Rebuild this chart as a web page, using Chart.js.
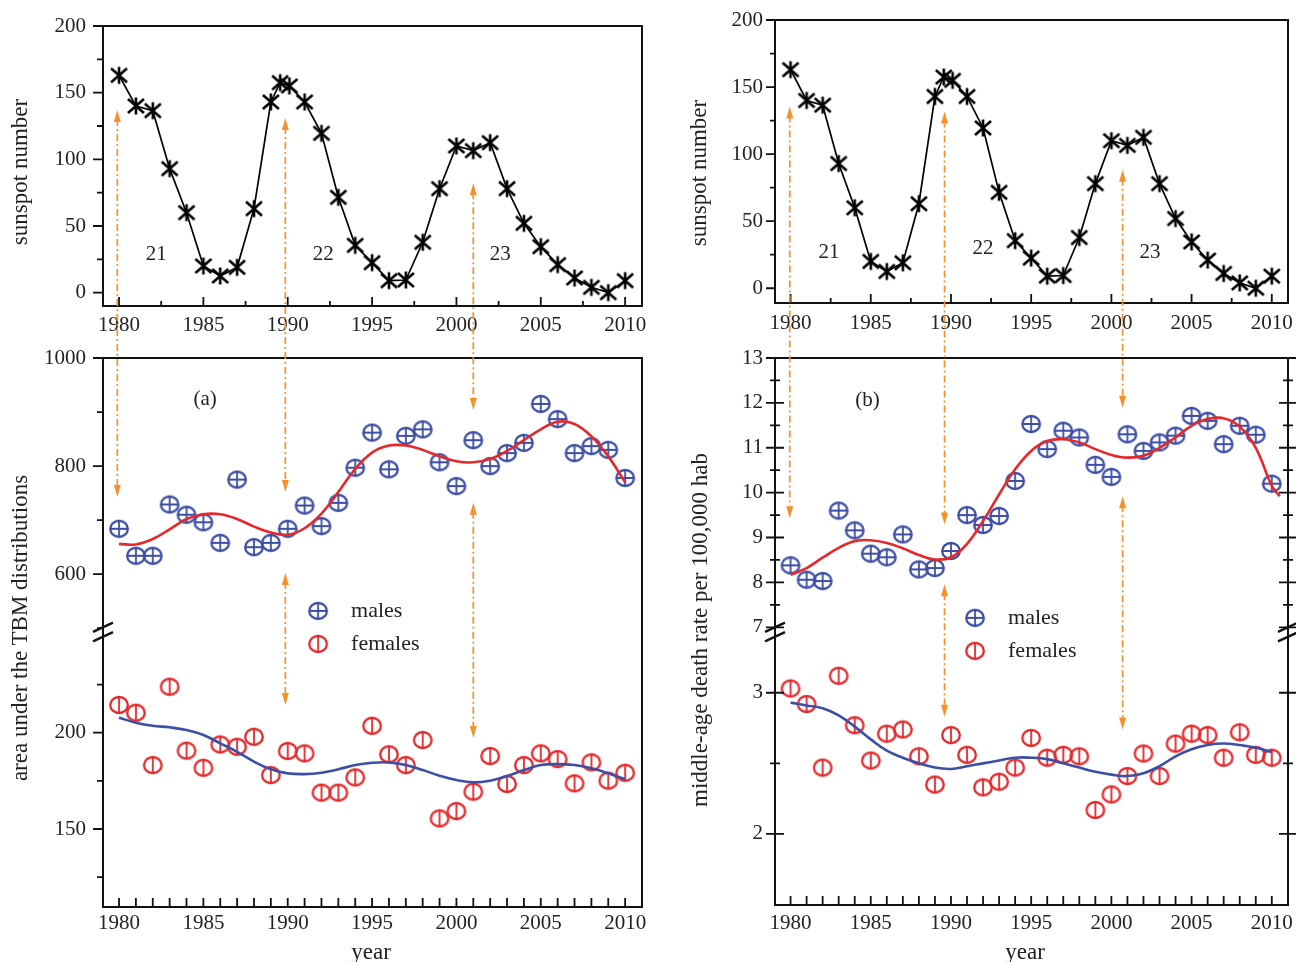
<!DOCTYPE html>
<html>
<head>
<meta charset="utf-8">
<script src="https://cdn.jsdelivr.net/npm/chart.js@4.4.1/dist/chart.umd.min.js"></script>
<style>
  body { margin:0; background:#fff; width:1296px; height:962px; position:relative; overflow:hidden;
         font-family:'Liberation Serif','DejaVu Serif',serif; color:#222; }
  canvas { position:absolute; }
  .ytl { position:absolute; font-size:23px; white-space:nowrap; transform:translate(-50%,-50%) rotate(-90deg); }
  .xtl { position:absolute; font-size:23px; white-space:nowrap; transform:translate(-50%,-50%); }
</style>
</head>
<body>
<canvas id="sunA"  width="660" height="345" style="left:0;top:0"></canvas>
<canvas id="maleA" width="660" height="287" style="left:0;top:345px"></canvas>
<canvas id="femA"  width="660" height="330" style="left:0;top:632px"></canvas>
<canvas id="sunB"  width="636" height="345" style="left:660px;top:0"></canvas>
<canvas id="maleB" width="636" height="287" style="left:660px;top:345px"></canvas>
<canvas id="femB"  width="636" height="330" style="left:660px;top:632px"></canvas>
<canvas id="overlay" width="1296" height="962" style="left:0;top:0;pointer-events:none"></canvas>

<div class="ytl" style="left:20px;top:172px">sunspot number</div>
<div class="ytl" style="left:699px;top:173px">sunspot number</div>
<div class="ytl" style="left:20px;top:628px">area under the TBM distributions</div>
<div class="ytl" style="left:700px;top:630px">middle-age death rate per 100,000 hab</div>
<div class="xtl" style="left:371px;top:952px">year</div>
<div class="xtl" style="left:1025px;top:952px">year</div>

<script>
// ── DATA ───────────────────────────────────────
const years = [1980,1981,1982,1983,1984,1985,1986,1987,1988,1989,1990,1991,1992,1993,1994,1995,
               1996,1997,1998,1999,2000,2001,2002,2003,2004,2005,2006,2007,2008,2009,2010];

// sunspot number (same series in both panels)
const sunYears  = [1980,1981,1982,1983,1984,1985,1986,1987,1988,1989,1989.55,1990.1,1991,1992,1993,1994,
                   1995,1996,1997,1998,1999,2000,2001,2002,2003,2004,2005,2006,2007,2008,2009,2010];
const sunValues = [163,140,136.5,93,60,20,12.5,19,63,143,157.5,155,143,119.5,71.5,35.5,
                   22.5,9,9.5,37.8,78,110,106.5,112.5,78,52,34.5,21,11,4,0,9];

// (a) area under the TBM distributions
const malesA   = [684,634,634,729,710,696,658,775,650,658,684,727,689,732,797,862,
                  794,856,868,807,763,848,800,824,843,915,887,824,837,830,778];
const malesFitA = [656,655,665,683,702,711,711,702,688,677,673,685,712,752,795,825,
                   838,838,830,818,809,807,813,828,848,868,882,878,855,818,770];
const femalesA  = [214.4,210.4,183.2,223.9,190.7,181.8,193.9,192.7,197.9,178.0,190.5,189.3,168.9,168.9,176.8,203.6,
                   188.8,183.2,196.2,155.5,159.3,169.4,187.9,173.4,183.2,189.3,186.3,173.7,184.6,175.1,179.2];
const femalesFitA = [207.8,205.2,203.6,202.8,201.4,198.8,194.5,190.1,185.0,181.0,178.9,178.5,179.2,181.0,183.2,184.4,
                     184.6,183.2,180.6,177.7,175.4,174.2,175.1,177.5,180.6,183.2,183.7,183.2,181.5,178.9,175.8];

// (b) middle-age death rate per 100,000 hab
const malesB   = [8.38,8.06,8.03,9.60,9.16,8.64,8.56,9.07,8.29,8.32,8.70,9.50,9.28,9.48,10.26,11.53,
                  10.97,11.38,11.23,10.62,10.35,11.30,10.93,11.12,11.27,11.71,11.60,11.08,11.49,11.29,10.20];
const fitYearsB = [1980,1981,1982,1983,1984,1985,1986,1987,1988,1989,1990,1991,1992,1993,1994,1995,
                   1996,1997,1998,1999,2000,2001,2002,2003,2004,2005,2006,2007,2008,2009,2010,2010.5];
const malesFitB = [8.17,8.32,8.55,8.77,8.92,8.94,8.88,8.76,8.61,8.51,8.56,8.86,9.37,9.96,10.52,10.93,
                   11.15,11.19,11.12,10.97,10.84,10.78,10.82,11.00,11.23,11.49,11.64,11.66,11.47,11.00,10.15,9.92];
const femalesB  = [3.03,2.92,2.47,3.12,2.77,2.52,2.71,2.74,2.55,2.35,2.70,2.56,2.33,2.37,2.47,2.68,
                   2.54,2.56,2.55,2.17,2.28,2.41,2.57,2.41,2.64,2.71,2.70,2.54,2.72,2.56,2.54];
const femalesFitB = [2.93,2.91,2.89,2.84,2.76,2.67,2.59,2.54,2.50,2.47,2.46,2.48,2.50,2.52,2.54,2.54,
                     2.53,2.50,2.47,2.44,2.42,2.41,2.43,2.48,2.55,2.60,2.63,2.64,2.63,2.61,2.58];

// ticks
const xLabels     = [1980,1985,1990,1995,2000,2005,2010];
const sunXTicks   = [1980,1982.5,1985,1987.5,1990,1992.5,1995,1997.5,2000,2002.5,2005,2007.5,2010];
const sunYLabels  = [0,50,100,150,200];
const sunYMinor   = [25,75,125,175];
const maleAYLabels = [600,800,1000];
const maleAYMinor  = [500,700,900];
const femAYLabels  = [150,200];
const femAYMinor   = [125,175,225];
const maleBYLabels = [7,8,9,10,11,12,13];
const maleBYMinor  = [7.5,8.5,9.5,10.5,11.5,12.5];
const femBYLabels  = [2,3];
const femBYMinor   = [2.5];

// annotations: [x, fromChart, fromValue, toChart, toValue]
const arrowsA = [
  [1979.9, 'sunA', 137, 'maleA', 743],
  [1989.86, 'sunA', 131, 'maleA', 752],
  [1989.86, 'maleA', 602, 'femA', 214.4],
  [2001.0, 'sunA', 82, 'maleA', 904],
  [2001.0, 'maleA', 732, 'femA', 197.2]
];
const arrowsB = [
  [1979.95, 'sunB', 135.5, 'maleB', 9.43],
  [1989.6, 'sunB', 131.8, 'maleB', 9.29],
  [1989.6, 'maleB', 7.96, 'femB', 2.83],
  [2000.7, 'sunB', 88.3, 'maleB', 11.89],
  [2000.7, 'maleB', 9.92, 'femB', 2.74]
];
const cycleLabels = [['sunA','21',1982.2,29],['sunA','22',1992.1,29],['sunA','23',2002.6,29],
                     ['sunB','21',1982.4,27],['sunB','22',1992.0,30],['sunB','23',2002.4,27]];
const panelLabels = [['maleA','(a)',1985.1,923],['maleB','(b)',1984.8,12.06]];
const legendPos   = [['maleA',1991.8,532],['maleB',1991.5,7.21]];

// ── STYLE ──────────────────────────────────────
const BLUE = '#3d4ea6', RED = '#e4282b', ORANGE = '#f5912c', INK = '#222';
const FONT = "'Liberation Serif','DejaVu Serif',serif";
Chart.defaults.font.family = FONT;
Chart.defaults.color = INK;

function makeMarker(kind) {
  const c = document.createElement('canvas');
  c.width = 22; c.height = 20;
  const g = c.getContext('2d');
  const cx = 11, cy = 10;
  g.lineCap = 'butt';
  if (kind === 'star') {
    g.strokeStyle = '#000'; g.lineWidth = 2.6;
    g.beginPath();
    g.moveTo(cx, cy - 8.5); g.lineTo(cx, cy + 8.5);
    g.moveTo(cx - 8, cy - 7); g.lineTo(cx + 8, cy + 7);
    g.moveTo(cx - 8, cy + 7); g.lineTo(cx + 8, cy - 7);
    g.stroke();
    return c;
  }
  const col = kind === 'male' ? BLUE : RED;
  g.strokeStyle = col; g.lineWidth = 2.3;
  g.beginPath(); g.ellipse(cx, cy, 8.8, 8, 0, 0, Math.PI * 2); g.stroke();
  g.lineWidth = 1.8;
  g.beginPath();
  g.moveTo(cx, cy - 8); g.lineTo(cx, cy + 8);
  if (kind === 'male') { g.moveTo(cx - 8.8, cy); g.lineTo(cx + 8.8, cy); }
  g.stroke();
  return c;
}
const starImg = makeMarker('star'), maleImg = makeMarker('male'), femImg = makeMarker('female');

// frame + tick marks drawn from the scales (ticks inward on x, outward on y)
const frames = {};
const framePlugin = {
  id: 'frame',
  afterDraw(chart) {
    const o = frames[chart.canvas.id];
    const { ctx, chartArea: a } = chart;
    const xs = chart.scales.x, ys = chart.scales.y;
    ctx.save();
    ctx.strokeStyle = '#111';
    ctx.lineWidth = 2;
    ctx.beginPath();
    ctx.moveTo(a.left, a.top); ctx.lineTo(a.left, a.bottom);
    ctx.moveTo(a.right, a.top); ctx.lineTo(a.right, a.bottom);
    if (o.top) { ctx.moveTo(a.left - 1, a.top); ctx.lineTo(a.right + 1, a.top); }
    if (o.bottom) { ctx.moveTo(a.left - 1, a.bottom); ctx.lineTo(a.right + 1, a.bottom); }
    ctx.stroke();
    ctx.lineWidth = 1.8;
    ctx.beginPath();
    (o.xTicks || []).forEach(v => {
      const p = xs.getPixelForValue(v);
      const len = xLabels.includes(v) ? o.xLen[0] : o.xLen[1];
      ctx.moveTo(p, a.bottom); ctx.lineTo(p, a.bottom - len);
    });
    const yt = (v, i) => {
      const p = ys.getPixelForValue(v);
      ctx.moveTo(a.left - o.yOut[i], p); ctx.lineTo(a.left + o.yIn[i], p);
      if (o.mirror) { ctx.moveTo(a.right - o.yIn[i], p); ctx.lineTo(a.right + o.yOut[i], p); }
    };
    o.yMajor.forEach(v => yt(v, 0));
    o.yMinor.forEach(v => yt(v, 1));
    ctx.stroke();
    ctx.restore();
  }
};

const xy = (xa, ya) => xa.map((x, i) => ({ x, y: ya[i] }));

function markers(xa, ya, img) {
  return { data: xy(xa, ya), showLine: false, pointStyle: img, pointRadius: 9, order: 1, clip: false };
}
function fit(xa, ya, col) {
  return { data: xy(xa, ya), borderColor: col, borderWidth: 2.6, pointRadius: 0, tension: 0.4, order: 0, fill: false };
}

// the scales keep no padding of their own, so the plot frame sits exactly where the layout says
function noPad(s) { s.paddingTop = 0; s.paddingBottom = 0; s.paddingLeft = 0; s.paddingRight = 0; }

function panelChart(id, pad, xr, yr, datasets, ax) {
  frames[id] = ax.frame;
  return new Chart(document.getElementById(id), {
    type: 'line',
    data: { datasets },
    options: {
      responsive: false, animation: false, devicePixelRatio: 1,
      layout: { autoPadding: false, padding: { left: 0, top: pad.t, right: pad.r, bottom: ax.showX ? 0 : pad.b } },
      plugins: { legend: { display: false }, tooltip: { enabled: false } },
      scales: {
        x: {
          type: 'linear', min: xr[0], max: xr[1], display: ax.showX,
          grid: { display: false, drawTicks: false }, border: { display: false },
          afterFit: s => { s.height = pad.b; noPad(s); },
          afterBuildTicks: s => { s.ticks = xLabels.map(v => ({ value: v })); },
          ticks: { autoSkip: false, maxRotation: 0, padding: ax.xPad, font: { size: 21 }, color: INK, callback: v => String(v) }
        },
        y: {
          type: 'linear', min: yr[0], max: yr[1],
          grid: { display: false, drawTicks: false }, border: { display: false },
          afterFit: s => { s.width = pad.l; noPad(s); },
          afterBuildTicks: s => { s.ticks = ax.yLabels.map(v => ({ value: v })); },
          ticks: { padding: ax.yPad, font: { size: 21 }, color: INK, callback: v => String(v) }
        }
      }
    },
    plugins: [framePlugin]
  });
}

const sunSet = () => [{ data: xy(sunYears, sunValues), borderColor: '#000', borderWidth: 1.7, tension: 0,
                        pointStyle: starImg, pointRadius: 9, clip: false }];

// ── PANEL (a) ──────────────────────────────────
const xrA = [1979.05, 2011.0];
const charts = {};
charts.sunA = panelChart('sunA', { l: 103, t: 26, r: 18, b: 39 }, xrA, [-10, 200], sunSet(),
  { showX: true, xPad: 7, yPad: 17, yLabels: sunYLabels,
    frame: { top: true, bottom: true, xTicks: sunXTicks, xLen: [9, 5], yMajor: sunYLabels, yMinor: sunYMinor, yOut: [10, 6], yIn: [0, 0] } });
charts.maleA = panelChart('maleA', { l: 103, t: 13, r: 18, b: 0 }, xrA, [493, 1000],
  [markers(years, malesA, maleImg), fit(years, malesFitA, RED)],
  { showX: false, xPad: 0, yPad: 17, yLabels: maleAYLabels,
    frame: { top: true, bottom: false, yMajor: maleAYLabels, yMinor: maleAYMinor, yOut: [10, 6], yIn: [0, 0] } });
charts.femA = panelChart('femA', { l: 103, t: 0, r: 18, b: 55 }, xrA, [109.5, 252.3],
  [markers(years, femalesA, femImg), fit(years, femalesFitA, BLUE)],
  { showX: true, xPad: 4, yPad: 17, yLabels: femAYLabels,
    frame: { top: false, bottom: true, xTicks: years, xLen: [9, 9], yMajor: femAYLabels, yMinor: femAYMinor, yOut: [10, 6], yIn: [0, 0] } });

// ── PANEL (b) ──────────────────────────────────
const xrB = [1979.03, 2011.01];
charts.sunB = panelChart('sunB', { l: 115, t: 20, r: 8, b: 42 }, xrB, [-11, 200], sunSet(),
  { showX: true, xPad: 8, yPad: 12, yLabels: sunYLabels,
    frame: { top: true, bottom: true, xTicks: sunXTicks, xLen: [9, 5], yMajor: sunYLabels, yMinor: sunYMinor, yOut: [9, 5], yIn: [0, 0] } });
charts.maleB = panelChart('maleB', { l: 115, t: 13, r: 8, b: 0 }, xrB, [6.895, 13],
  [markers(years, malesB, maleImg), fit(fitYearsB, malesFitB, RED)],
  { showX: false, xPad: 0, yPad: 12, yLabels: maleBYLabels,
    frame: { top: true, bottom: false, mirror: true, yMajor: maleBYLabels, yMinor: maleBYMinor, yOut: [9, 5], yIn: [9, 5] } });
charts.femB = panelChart('femB', { l: 115, t: 0, r: 8, b: 57 }, xrB, [1.497, 3.43],
  [markers(years, femalesB, femImg), fit(years, femalesFitB, BLUE)],
  { showX: true, xPad: 6, yPad: 12, yLabels: femBYLabels,
    frame: { top: false, bottom: true, mirror: true, xTicks: years, xLen: [9, 9], yMajor: femBYLabels, yMinor: femBYMinor, yOut: [9, 5], yIn: [9, 5] } });

// ── OVERLAY: arrows, legend, labels, axis breaks ──
const ov = document.getElementById('overlay').getContext('2d');
function pt(key, xv, yv) {
  const ch = charts[key];
  return [ch.canvas.offsetLeft + ch.scales.x.getPixelForValue(xv),
          ch.canvas.offsetTop + ch.scales.y.getPixelForValue(yv)];
}

function drawArrow([xv, k1, v1, k2, v2]) {
  const [x, y1] = pt(k1, xv, v1);
  const [, y2] = pt(k2, xv, v2);
  ov.save();
  ov.strokeStyle = ORANGE; ov.fillStyle = ORANGE; ov.lineWidth = 1.7;
  ov.setLineDash([7, 3, 2, 3]);
  ov.beginPath(); ov.moveTo(x, y1 + 9); ov.lineTo(x, y2 - 9); ov.stroke();
  ov.setLineDash([]);
  ov.beginPath(); ov.moveTo(x, y1); ov.lineTo(x - 3.5, y1 + 12); ov.lineTo(x + 3.5, y1 + 12); ov.closePath(); ov.fill();
  ov.beginPath(); ov.moveTo(x, y2); ov.lineTo(x - 3.5, y2 - 12); ov.lineTo(x + 3.5, y2 - 12); ov.closePath(); ov.fill();
  ov.restore();
}
arrowsA.forEach(drawArrow);
arrowsB.forEach(drawArrow);

ov.fillStyle = INK;
ov.textAlign = 'center'; ov.textBaseline = 'middle';
ov.font = `21px ${FONT}`;
cycleLabels.concat(panelLabels).forEach(([k, t, xv, yv]) => {
  const [x, y] = pt(k, xv, yv);
  ov.fillText(t, x, y);
});

ov.font = `22px ${FONT}`;
ov.textAlign = 'left';
legendPos.forEach(([k, xv, yv]) => {
  const [x, y] = pt(k, xv, yv);
  ov.drawImage(maleImg, x - maleImg.width / 2, y - maleImg.height / 2);
  ov.drawImage(femImg, x - femImg.width / 2, y + 33 - femImg.height / 2);
  ov.fillText('males', x + 33, y);
  ov.fillText('females', x + 33, y + 33);
});

// axis break marks where the upper and lower parts meet
function breakMark(x, y) {
  ov.save();
  ov.strokeStyle = '#111'; ov.lineWidth = 2.4;
  ov.beginPath();
  [-4.8, 4.8].forEach(d => { ov.moveTo(x - 10, y + d + 4.6); ov.lineTo(x + 10, y + d - 4.6); });
  ov.stroke();
  ov.restore();
}
[['maleA', false], ['maleB', true]].forEach(([k, both]) => {
  const ch = charts[k], a = ch.chartArea;
  const top = ch.canvas.offsetTop, left = ch.canvas.offsetLeft;
  breakMark(left + a.left, top + a.bottom);
  if (both) breakMark(left + a.right, top + a.bottom);
});
</script>
</body>
</html>
